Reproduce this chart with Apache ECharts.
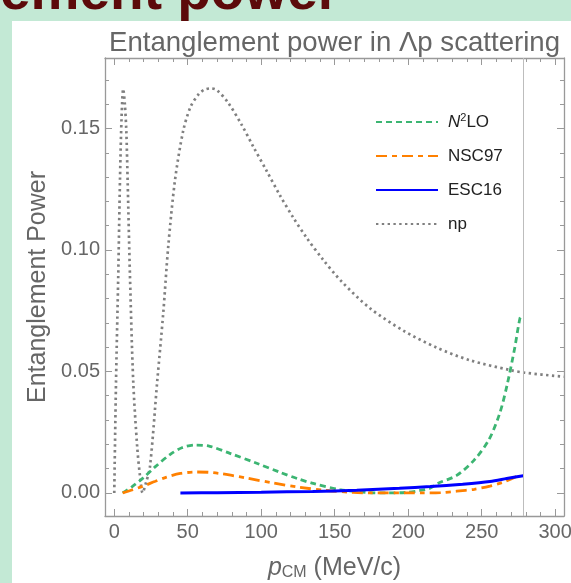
<!DOCTYPE html>
<html>
<head>
<meta charset="UTF-8">
<title>Entanglement power</title>
<script src="https://cdn.jsdelivr.net/npm/echarts@6.0.0/dist/echarts.min.js"></script>
<style>
  html, body { margin: 0; padding: 0; }
  body { width: 571px; height: 583px; background: #c3e9d5; position: relative; overflow: hidden; }
  #head { position: absolute; left: 0px; top: -42px; font: bold 55px "Liberation Sans", Arial, sans-serif; color: #5c0a0a; white-space: nowrap; }
  #panel { position: absolute; left: 12px; top: 21px; right: 0; bottom: 0; background: #fff; }
  #container { position: absolute; left: 0; top: 0; width: 571px; height: 583px; }
</style>
</head>
<body>
<div id="head">ement power</div>
<div id="panel"></div>
<div id="container"></div>
<script type="text/javascript">
// data
var npX = [0, 1.2, 2.7, 3.9, 5, 6.1, 7.2, 8.2, 9.1, 10.7, 12.9, 15.6, 17.5, 19.3, 21.5, 24.3, 29.3, 33.3, 36.7, 41.3, 46.9, 52, 57.6, 61.5, 65.6, 70, 77.6, 86.7, 94.6, 103.7, 112.7, 121.8, 130.9, 141.8, 155, 174, 196.7, 219.3, 242, 269, 279, 306];
var npY = [0, 0.046, 0.089, 0.129, 0.155, 0.1663, 0.160, 0.149, 0.1286, 0.089, 0.046, 0.019, 0.007, 0, 0.004, 0.0108, 0.0464, 0.0738, 0.1012, 0.1286, 0.149, 0.159, 0.1642, 0.166, 0.1665, 0.1657, 0.1605, 0.1515, 0.1425, 0.1325, 0.1225, 0.1133, 0.1050, 0.0962, 0.0868, 0.0760, 0.0668, 0.0598, 0.0546, 0.0506, 0.0495, 0.0478];

var n2loX = [5.7, 12, 19.7, 28, 37.9, 46, 55, 65, 78.7, 96.9, 112.7, 125, 135.4, 153.5, 171.7, 185.3, 199, 208, 214.8, 220.4, 233, 245, 255, 262.4, 267.5, 272.6, 276, 277.5];
var n2loY = [0, 0.0025, 0.0062, 0.0108, 0.0158, 0.0186, 0.0197, 0.0192, 0.0163, 0.0122, 0.0085, 0.0058, 0.0039, 0.0014, 0.0002, 0, 0.0002, 0.001, 0.0019, 0.004, 0.0072, 0.0136, 0.022, 0.033, 0.045, 0.0601, 0.0718, 0.0733];

var nsc97X = [5.7, 12, 19.7, 28, 35.6, 45, 55, 64, 71.9, 80, 90, 108, 126.3, 144.5, 162.6, 175, 185.3, 198, 210, 222, 233, 245, 255.6, 265, 273.7, 276];
var nsc97Y = [0, 0.0012, 0.0028, 0.0048, 0.0065, 0.0080, 0.0086, 0.0085, 0.0080, 0.0072, 0.0061, 0.0041, 0.0023, 0.0010, 0.0002, 0, 0, 0, 0, 0.0001, 0.0007, 0.0015, 0.0028, 0.0045, 0.0068, 0.0077];

var esc16X = [45, 70, 100, 135, 165, 194, 215, 237, 255.6, 267, 278.3];
var esc16Y = [0, 0.0001, 0.0003, 0.0006, 0.0011, 0.0019, 0.0026, 0.0036, 0.0047, 0.0059, 0.0071];

var xMajor = [0, 50, 100, 150, 200, 250, 300];
var xMinor = [10, 20, 30, 40, 60, 70, 80, 90, 110, 120, 130, 140, 160, 170, 180, 190, 210, 220, 230, 240, 260, 270, 280, 290];
var yMajor = [0, 0.05, 0.10, 0.15];
var yMinor = [0.01, 0.02, 0.03, 0.04, 0.06, 0.07, 0.08, 0.09, 0.11, 0.12, 0.13, 0.14, 0.16, 0.17];
var cutX = 278;

function pairs(xs, ys) {
  return xs.map(function (x, i) { return [x, ys[i]]; });
}

var frame = '#999';
var labelColor = '#666';
var font = '"Liberation Sans", Arial, sans-serif';

function xAxisOf(pos, ticks, len, line, labels) {
  return {
    type: 'value', position: pos, min: -6.3, max: 306,
    axisLine: { show: line, onZero: false, lineStyle: { color: frame, width: 1.3 } },
    axisTick: { show: true, inside: true, length: len, customValues: ticks, lineStyle: { color: frame, width: 1 } },
    axisLabel: labels ? { show: true, customValues: ticks, color: labelColor, fontSize: 20, fontFamily: font, margin: 6 } : { show: false },
    splitLine: { show: false }
  };
}
function yAxisOf(pos, ticks, len, line, labels) {
  return {
    type: 'value', position: pos, min: -0.0095, max: 0.179,
    axisLine: { show: line, onZero: false, lineStyle: { color: frame, width: 1.3 } },
    axisTick: { show: true, inside: true, length: len, customValues: ticks, lineStyle: { color: frame, width: 1 } },
    axisLabel: labels ? {
      show: true, customValues: ticks, color: labelColor, fontSize: 20, fontFamily: font, margin: 5,
      formatter: function (v) { return v.toFixed(2); }
    } : { show: false },
    splitLine: { show: false }
  };
}

var xAxes = [
  xAxisOf('bottom', xMajor, 7, true, true),
  xAxisOf('bottom', xMinor, 4, false, false),
  xAxisOf('top', xMajor, 7, true, false),
  xAxisOf('top', xMinor, 4, false, false)
];
xAxes[0].name = '{i|p}{s|CM} (MeV/c)';
xAxes[0].nameLocation = 'middle';
xAxes[0].nameGap = 40;
xAxes[0].nameTextStyle = {
  color: labelColor, fontSize: 25, fontFamily: font,
  rich: {
    i: { fontStyle: 'italic', fontSize: 25, color: labelColor, fontFamily: font },
    s: { fontSize: 16, color: labelColor, fontFamily: font, verticalAlign: 'bottom', padding: [9, 0, 0, 0] }
  }
};

var yAxes = [
  yAxisOf('left', yMajor, 7, true, true),
  yAxisOf('left', yMinor, 4, false, false),
  yAxisOf('right', yMajor, 7, true, false),
  yAxisOf('right', yMinor, 4, false, false)
];
yAxes[0].name = 'Entanglement Power';
yAxes[0].nameLocation = 'middle';
yAxes[0].nameGap = 52;
yAxes[0].nameTextStyle = { color: labelColor, fontSize: 25, fontFamily: font };

var myChart = echarts.init(document.getElementById('container'));
var option = {
  animation: false,
  textStyle: { fontFamily: font },
  title: {
    text: 'Entanglement power in Λp scattering',
    left: 109, top: 29, padding: 0,
    textStyle: { color: labelColor, fontSize: 27.6, fontWeight: 'normal', fontFamily: font }
  },
  grid: { left: 105, right: 7, top: 58, bottom: 67, outerBoundsMode: 'none' },
  legend: {
    orient: 'vertical', left: 375, top: 112, padding: 0,
    itemWidth: 62, itemHeight: 14, itemGap: 14,
    itemStyle: { opacity: 0 },
    textStyle: {
      color: '#222', fontSize: 17, lineHeight: 20, padding: [0, 0, 0, 5],
      rich: {
        i: { fontStyle: 'italic', fontSize: 17, color: '#222' },
        s: { fontSize: 11, color: '#222', verticalAlign: 'top', lineHeight: 20 }
      }
    },
    formatter: function (name) {
      return name === 'N2LO' ? '{i|N}{s|2}LO' : name;
    },
    data: ['N2LO', 'NSC97', 'ESC16', 'np']
  },
  xAxis: xAxes,
  yAxis: yAxes,
  series: [
    {
      name: 'np', type: 'line', symbol: 'none', smooth: 0.3, z: 1,
      data: pairs(npX, npY),
      lineStyle: { color: '#808080', width: 2.7, type: [2.4, 3.4] },
      itemStyle: { color: '#808080' }
    },
    {
      name: 'N2LO', type: 'line', symbol: 'none', smooth: 0.3, z: 3,
      data: pairs(n2loX, n2loY),
      lineStyle: { color: '#3cb572', width: 2.8, type: [6, 4] },
      itemStyle: { color: '#3cb572' }
    },
    {
      name: 'NSC97', type: 'line', symbol: 'none', smooth: 0.3, z: 3,
      data: pairs(nsc97X, nsc97Y),
      lineStyle: { color: '#ff8000', width: 2.8, type: [11, 5, 5, 5] },
      itemStyle: { color: '#ff8000' }
    },
    {
      name: 'ESC16', type: 'line', symbol: 'none', smooth: 0.3, z: 4,
      data: pairs(esc16X, esc16Y),
      lineStyle: { color: '#0000ff', width: 3 },
      itemStyle: { color: '#0000ff' },
      markLine: {
        silent: true, symbol: 'none', label: { show: false },
        lineStyle: { color: '#bdbdbd', width: 1, type: 'solid' },
        data: [{ xAxis: cutX }]
      }
    }
  ]
};
myChart.setOption(option);
</script>
</body>
</html>
